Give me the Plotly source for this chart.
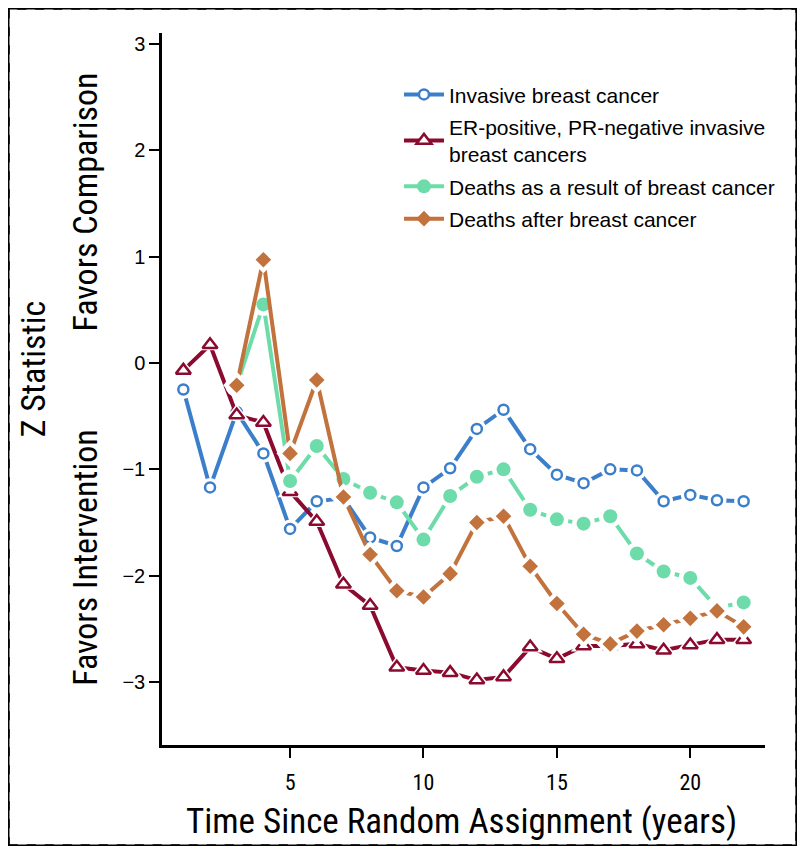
import plotly.graph_objects as go

# Z statistic per year since random assignment

years = list(range(1, 23))
years_deaths = list(range(3, 23))

invasive = [-0.25, -1.17, -0.46, -0.85, -1.56, -1.30, -1.27, -1.64, -1.72, -1.17, -0.99,
            -0.62, -0.44, -0.81, -1.05, -1.13, -1.00, -1.01, -1.30, -1.24, -1.29, -1.30]
er_pos_pr_neg = [-0.07, 0.17, -0.49, -0.56, -1.21, -1.49, -2.08, -2.28, -2.86, -2.89, -2.91,
                 -2.98, -2.95, -2.67, -2.78, -2.66, -2.66, -2.64, -2.70, -2.65, -2.60, -2.60]
deaths_from_bc = [-0.21, 0.55, -1.11, -0.78, -1.09, -1.22, -1.31, -1.66, -1.25, -1.07, -1.00,
                  -1.38, -1.47, -1.51, -1.44, -1.79, -1.96, -2.02, -2.30, -2.25]
deaths_after_bc = [-0.21, 0.97, -0.85, -0.16, -1.26, -1.80, -2.14, -2.20, -1.98, -1.50, -1.44,
                   -1.91, -2.26, -2.55, -2.64, -2.52, -2.46, -2.40, -2.33, -2.48]

x_ticks = [5, 10, 15, 20]
y_ticks = [-3, -2, -1, 0, 1, 2, 3]
y_tick_text = ['\u22123', '\u22122', '\u22121', '0', '1', '2', '3']
z_05 = -1.96
z_01 = -2.576

series = [
    dict(name='Invasive breast cancer', x=years, y=invasive, color='#3B7FCB',
         symbol='circle', size=10, fill='white', lw=2.5),
    dict(name='ER-positive, PR-negative invasive<br>breast cancers', x=years, y=er_pos_pr_neg,
         color='#8A0B2F', symbol='triangle-up', size=13, fill='white', lw=2.5),
    dict(name='Deaths as a result of breast cancer', x=years_deaths, y=deaths_from_bc,
         color='#6DDCAA', symbol='circle', size=14, fill='#6DDCAA', lw=0),
    dict(name='Deaths after breast cancer', x=years_deaths, y=deaths_after_bc,
         color='#C1723D', symbol='diamond', size=12, fill='#C1723D', lw=0),
]

# page body keeps an 8px margin, so the figure is shrunk to fit inside it
W, H = 789, 838
ML, MR, MT, MB = 154, 32, 25, 101
pw, ph = W - ML - MR, H - MT - MB

narrow = 'Roboto Condensed, Liberation Sans Narrow, Roboto'

fig = go.Figure()

# reference lines
fig.add_hline(y=0, line=dict(color='#C3C6C8', width=2.5))
fig.add_hline(y=z_05, line=dict(color='#C3C6C8', width=2, dash='dash'))
fig.add_hline(y=z_01, line=dict(color='#C3C6C8', width=2, dash='dash'))

for s in series:
    fig.add_trace(go.Scatter(x=s['x'], y=s['y'], mode='lines', showlegend=False,
                             line=dict(color=s['color'], width=4), hoverinfo='skip'))
    # white halo that opens a gap in the line around each marker
    fig.add_trace(go.Scatter(x=s['x'], y=s['y'], mode='markers', showlegend=False,
                             marker=dict(symbol=s['symbol'], size=s['size'] + 9, color='white'),
                             hoverinfo='skip'))
    fig.add_trace(go.Scatter(x=s['x'], y=s['y'], mode='markers', showlegend=False,
                             marker=dict(symbol=s['symbol'], size=s['size'], color=s['fill'],
                                         line=dict(color=s['color'], width=s['lw']))))

for i, s in enumerate(series):
    fig.add_trace(go.Scatter(x=[None], y=[None], mode='lines+markers', name=s['name'],
                             legendgroup=f'g{i}',
                             line=dict(color=s['color'], width=4),
                             marker=dict(symbol=s['symbol'], size=s['size'], color=s['fill'],
                                         line=dict(color=s['color'], width=s['lw']))))

fig.update_xaxes(range=[0.2, 22.8], tickvals=x_ticks, showgrid=False, zeroline=False,
                 showline=True, linecolor='black', linewidth=2.5,
                 ticks='outside', ticklen=10, tickwidth=2, tickcolor='black',
                 ticklabelstandoff=6,
                 tickfont=dict(family=narrow, size=22, color='black'))
fig.update_yaxes(range=[-3.59, 3.1], tickvals=y_ticks, ticktext=y_tick_text, showgrid=False,
                 zeroline=False, showline=True, linecolor='black', linewidth=2.5,
                 ticks='outside', ticklen=10, tickwidth=2, tickcolor='black',
                 tickfont=dict(family='Liberation Sans', size=20, color='black'))

annotations = [
    dict(text='Time Since Random Assignment (years)', x=0.4975, y=-0.108, xref='paper', yref='paper',
         xanchor='center', yanchor='middle', showarrow=False,
         font=dict(family=narrow, size=35, color='black')),
    dict(text='Z Statistic', x=-0.214, y=0.529, xref='paper', yref='paper', textangle=-90,
         xanchor='center', yanchor='middle', showarrow=False,
         font=dict(family=narrow, size=34, color='black')),
    dict(text='Favors Comparison', x=-0.128, y=0.763, xref='paper', yref='paper', textangle=-90,
         xanchor='center', yanchor='middle', showarrow=False,
         font=dict(family=narrow, size=34, color='black')),
    dict(text='Favors Intervention', x=-0.128, y=0.264, xref='paper', yref='paper', textangle=-90,
         xanchor='center', yanchor='middle', showarrow=False,
         font=dict(family=narrow, size=34, color='black')),
]

border = dict(type='rect', xref='paper', yref='paper',
              x0=(0.75 - ML) / pw, x1=(W - 0.75 - ML) / pw,
              y0=-(MB - 0.75) / ph, y1=(H - MB - 0.75) / ph,
              line=dict(color='black', width=1.5), layer='below')

fig.update_layout(width=W, height=H, margin=dict(l=ML, r=MR, t=MT, b=MB),
                  plot_bgcolor='white', paper_bgcolor='white',
                  font=dict(family='Liberation Sans', color='black'),
                  annotations=annotations, shapes=[border],
                  legend=dict(x=0.393, y=0.942, xanchor='left', yanchor='top',
                              bgcolor='rgba(0,0,0,0)', font=dict(family='Liberation Sans', size=21),
                              itemwidth=40, tracegroupgap=2))

fig.write_html("out.html")
